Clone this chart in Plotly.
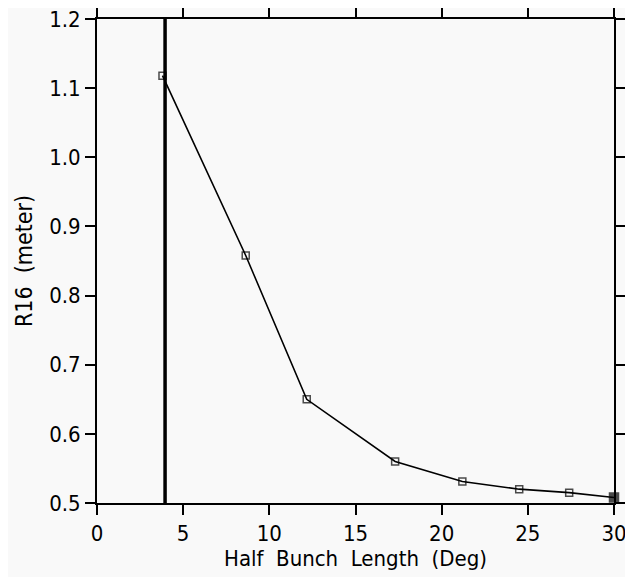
import plotly.graph_objects as go

half_bunch_deg = [3.8, 8.63, 12.17, 17.3, 21.2, 24.5, 27.4, 30.0]
r16_meter = [1.118, 0.858, 0.650, 0.560, 0.531, 0.520, 0.515, 0.508]
limit_x = 3.95
x_ticks = [0, 5, 10, 15, 20, 25, 30]
y_ticks = [0.5, 0.6, 0.7, 0.8, 0.9, 1.0, 1.1, 1.2]
y_tick_labels = ["0.5", "0.6", "0.7", "0.8", "0.9", "1.0", "1.1", "1.2"]

FONT = "DejaVu Sans Condensed, DejaVu Sans, sans-serif"
BG = "#f9f9f9"

fig = go.Figure()

fig.add_trace(go.Scatter(
    x=[limit_x, limit_x], y=[y_ticks[0], y_ticks[-1]],
    mode="lines", line=dict(color="black", width=3.5),
    hoverinfo="skip", showlegend=False,
))

fig.add_trace(go.Scatter(
    x=half_bunch_deg, y=r16_meter,
    mode="lines+markers", cliponaxis=False,
    line=dict(color="black", width=1.6),
    marker=dict(symbol=["square-open"] * (len(half_bunch_deg) - 1) + ["square"],
                size=[7] * (len(half_bunch_deg) - 1) + [9],
                color="black", line=dict(color="black", width=1.5)),
    showlegend=False,
))

axis_common = dict(
    showgrid=False, zeroline=False, showline=True, linecolor="black", linewidth=2,
    ticks="outside", ticklen=10, tickwidth=2, tickcolor="black", mirror="ticks",
    tickfont=dict(family=FONT, size=22, color="black"), automargin=False,
    ticklabeloverflow="allow",
)

fig.update_xaxes(
    range=[0, 30], tickvals=x_ticks, ticktext=[str(v) for v in x_ticks],
    title=dict(text="Half\u00a0 Bunch\u00a0 Length\u00a0 (Deg)",
               font=dict(family=FONT, size=22, color="black"), standoff=4),
    **axis_common,
)
fig.update_yaxes(
    range=[0.5, 1.2], tickvals=y_ticks, ticktext=y_tick_labels,
    title=dict(text="R16\u00a0 (meter)", font=dict(family=FONT, size=23, color="black"), standoff=10),
    **axis_common,
)

fig.update_layout(
    width=625, height=569,
    margin=dict(l=89, r=19, t=11, b=74),
    paper_bgcolor=BG, plot_bgcolor=BG,
)

fig.write_html("out.html")
